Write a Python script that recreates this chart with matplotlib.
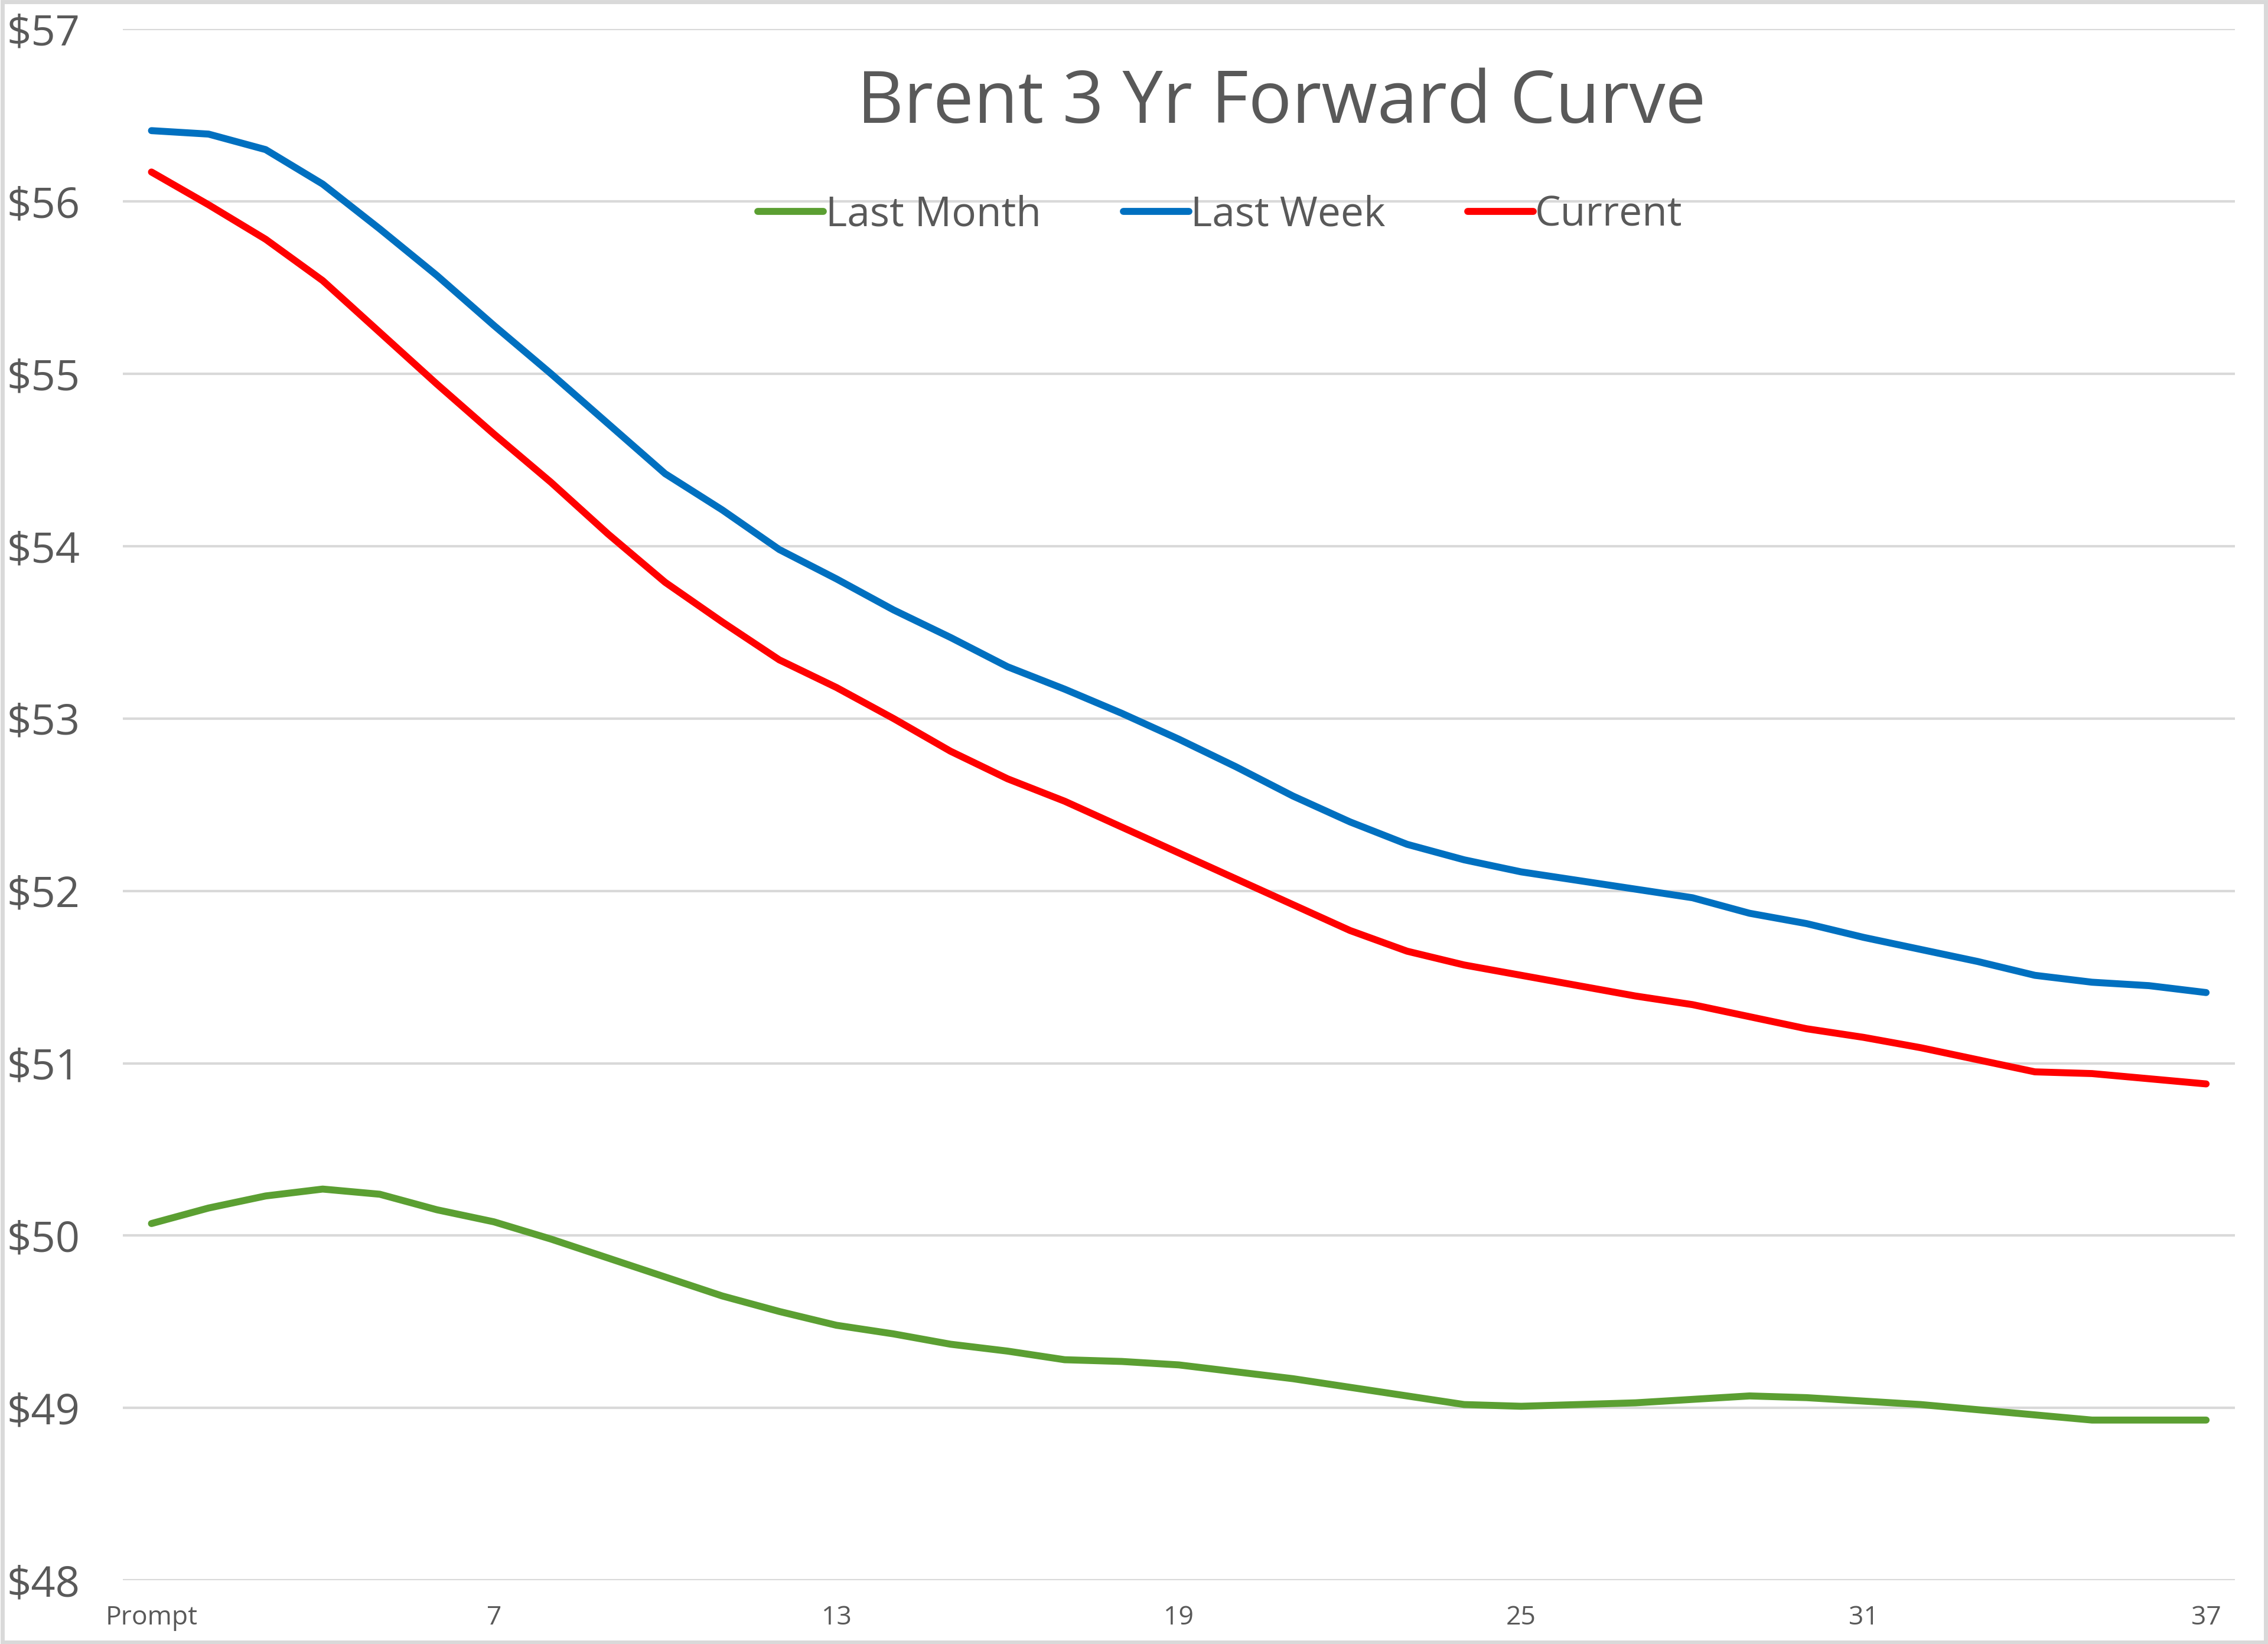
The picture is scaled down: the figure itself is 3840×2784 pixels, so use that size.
import numpy as np
import matplotlib as mpl
import matplotlib.pyplot as plt
from matplotlib.patches import Rectangle

# contract months, 1 = prompt
months = list(range(1, 38))
tick_months = [1, 7, 13, 19, 25, 31, 37]
tick_labels = ['Prompt', '7', '13', '19', '25', '31', '37']

last_month = [50.07, 50.16, 50.23, 50.27, 50.24, 50.15, 50.08, 49.98, 49.87, 49.76,
              49.65, 49.56, 49.48, 49.43, 49.37, 49.33, 49.28, 49.27, 49.25, 49.21,
              49.17, 49.12, 49.07, 49.02, 49.01, 49.02, 49.03, 49.05, 49.07, 49.06,
              49.04, 49.02, 48.99, 48.96, 48.93, 48.93, 48.93]
last_week = [56.41, 56.39, 56.30, 56.10, 55.84, 55.57, 55.28, 55.00, 54.71, 54.42,
             54.21, 53.98, 53.81, 53.63, 53.47, 53.30, 53.17, 53.03, 52.88, 52.72,
             52.55, 52.40, 52.27, 52.18, 52.11, 52.06, 52.01, 51.96, 51.87, 51.81,
             51.73, 51.66, 51.59, 51.51, 51.47, 51.45, 51.41]
current = [56.17, 55.98, 55.78, 55.54, 55.24, 54.94, 54.65, 54.37, 54.07, 53.79,
           53.56, 53.34, 53.18, 53.00, 52.81, 52.65, 52.52, 52.37, 52.22, 52.07,
           51.92, 51.77, 51.65, 51.57, 51.51, 51.45, 51.39, 51.34, 51.27, 51.20,
           51.15, 51.09, 51.02, 50.95, 50.94, 50.91, 50.88]

mpl.rcParams['font.family'] = ['Open Sans', 'DejaVu Sans']
text_color = '#595959'
grid_color = '#d9d9d9'

fig = plt.figure(figsize=(38.4, 27.84), dpi=100)
ax = fig.add_axes([0.0542, 0.0387, 0.9311, 0.9437])

ax.plot(months, last_month, color='#5b9f32', lw=8.5, label='Last Month', solid_capstyle='round')
ax.plot(months, last_week, color='#0070c0', lw=8.5, label='Last Week', solid_capstyle='round')
ax.plot(months, current, color='#ff0000', lw=8.5, label='Current', solid_capstyle='round')

ax.set_xlim(0.5, 37.5)
ax.set_ylim(48, 57)
ax.set_yticks(range(48, 58))
ax.set_yticklabels(['$' + str(v) for v in range(48, 58)])
ax.set_xticks(tick_months)
ax.set_xticklabels(tick_labels)
ax.tick_params(axis='y', length=0, pad=52, labelsize=52, labelcolor=text_color)
ax.tick_params(axis='x', length=0, pad=30, labelsize=32, labelcolor=text_color)
ax.grid(axis='y', color=grid_color, lw=3)
ax.set_axisbelow(True)
for s in ax.spines.values():
    s.set_visible(False)

fig.text(0.565, 0.937, 'Brent 3 Yr Forward Curve', ha='center', va='center',
         fontsize=88, color=text_color)
fig.legend(loc='center', bbox_to_anchor=(0.538, 0.869), ncol=3, frameon=False,
           fontsize=50, handlelength=1.6, handletextpad=0.05, columnspacing=2.0,
           labelcolor=text_color)

fig.add_artist(Rectangle((0.001, 0.001), 0.998, 0.998, transform=fig.transFigure,
                         fill=False, edgecolor=grid_color, lw=5))

fig.savefig('out.png', dpi=100)
